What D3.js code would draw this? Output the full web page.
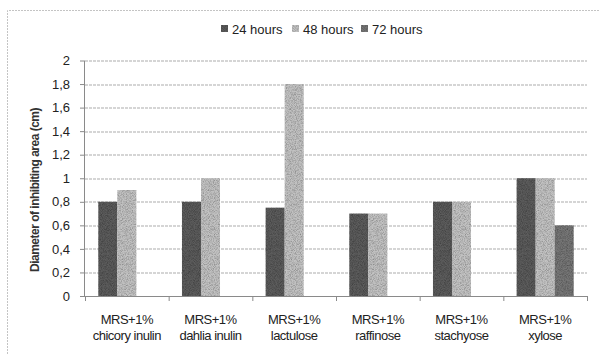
<!DOCTYPE html>
<html>
<head>
<meta charset="utf-8">
<script src="https://cdn.jsdelivr.net/npm/d3@7"></script>
<style>
  html, body { margin: 0; padding: 0; background: #fff; }
  svg { display: block; font-family: "Liberation Sans", Arial, sans-serif; }
</style>
</head>
<body>
<svg id="chart" width="600" height="354"></svg>
<script>
// Inhibition zone diameters per carbon source and incubation time
const categories = [
  ["MRS+1%", "chicory inulin"],
  ["MRS+1%", "dahlia inulin"],
  ["MRS+1%", "lactulose"],
  ["MRS+1%", "raffinose"],
  ["MRS+1%", "stachyose"],
  ["MRS+1%", "xylose"]
];
const seriesNames = ["24 hours", "48 hours", "72 hours"];
const hours24 = [0.8, 0.8, 0.75, 0.7, 0.8, 1.0];
const hours48 = [0.9, 1.0, 1.8, 0.7, 0.8, 1.0];
const hours72 = [0, 0, 0, 0, 0, 0.6];
const yTicks = [0, 0.2, 0.4, 0.6, 0.8, 1, 1.2, 1.4, 1.6, 1.8, 2];
const colors = ["#5b5b5b", "#c2c2c2", "#767676"];

const series = [hours24, hours48, hours72];
const svg = d3.select("#chart");

// grain for the bar fills
const defs = svg.append("defs");
const f = defs.append("filter").attr("id", "grain").attr("x", 0).attr("y", 0).attr("width", 1).attr("height", 1);
f.append("feTurbulence").attr("type", "fractalNoise").attr("baseFrequency", 1.2).attr("numOctaves", 1).attr("seed", 3).attr("result", "noise");
f.append("feColorMatrix").attr("in", "noise").attr("type", "matrix")
  .attr("values", "0 0 0 0 0  0 0 0 0 0  0 0 0 0 0  0 0 0 1.2 -0.45").attr("result", "speck");
f.append("feComposite").attr("in", "speck").attr("in2", "SourceGraphic").attr("operator", "in").attr("result", "speckIn");
f.append("feMerge").selectAll("feMergeNode").data(["SourceGraphic", "speckIn"]).join("feMergeNode").attr("in", d => d);

const margin = { left: 85, right: 13, top: 60.5, bottom: 58 };
const W = 600, H = 354;
const plotW = W - margin.left - margin.right;
const plotH = H - margin.top - margin.bottom;

// outer frame (top and left edges)
svg.append("path")
  .attr("d", "M7.5,354 V10.5 H600")
  .attr("fill", "none").attr("stroke", "#c4c4c4").attr("stroke-width", 1)
  .attr("stroke-dasharray", "2,1");

const g = svg.append("g").attr("transform", `translate(${margin.left},${margin.top})`);

const x = d3.scaleBand().domain(d3.range(categories.length)).range([0, plotW]).paddingInner(0).paddingOuter(0);
const xi = d3.scaleBand().domain(d3.range(series.length)).range([0, x.bandwidth()]).paddingInner(0).paddingOuter(0.7);
const y = d3.scaleLinear().domain([0, 2]).range([plotH, 0]);

// gridlines
g.append("g").selectAll("line").data(yTicks.filter(t => t > 0)).join("line")
  .attr("x1", 0).attr("x2", plotW)
  .attr("y1", d => Math.round(y(d)) + 0.5).attr("y2", d => Math.round(y(d)) + 0.5)
  .attr("stroke", "#ababab").attr("stroke-width", 1).attr("stroke-dasharray", "3,1");

// bars
const groups = g.append("g").selectAll("g").data(categories).join("g")
  .attr("transform", (d, i) => `translate(${x(i)},0)`);
groups.selectAll("rect")
  .data((d, i) => series.map((s, k) => ({ k, v: s[i] })).filter(e => e.v > 0))
  .join("rect")
  .attr("x", d => xi(d.k))
  .attr("width", xi.bandwidth())
  .attr("y", d => y(d.v))
  .attr("height", d => y(0) - y(d.v))
  .attr("fill", d => colors[d.k])
  .attr("filter", "url(#grain)");

// y axis
const yAxis = g.append("g")
  .call(d3.axisLeft(y).tickValues(yTicks).tickSize(5).tickPadding(10)
    .tickFormat(d => String(d).replace(".", ",")));
yAxis.select(".domain").attr("stroke", "#8a8a8a").attr("d", `M-0.5,0.5V${plotH + 0.5}`);
yAxis.selectAll(".tick line").attr("stroke", "#8a8a8a");
yAxis.selectAll("text").attr("font-size", 13).attr("fill", "#222")
  .attr("font-family", "'Liberation Sans', Arial, sans-serif");

// x axis
const xAxis = g.append("g").attr("transform", `translate(0,${plotH})`)
  .call(d3.axisBottom(x).tickValues([]).tickSizeOuter(0));
xAxis.select(".domain").attr("stroke", "#8a8a8a");
g.append("g").attr("transform", `translate(0,${plotH})`).selectAll("line")
  .data(d3.range(categories.length + 1)).join("line")
  .attr("x1", i => i * x.step() + 0.5).attr("x2", i => i * x.step() + 0.5)
  .attr("y1", 0).attr("y2", 5).attr("stroke", "#8a8a8a");

const xl = g.append("g").selectAll("text").data(categories).join("text")
  .attr("x", (d, i) => x(i) + x.bandwidth() / 2)
  .attr("y", plotH + 28)
  .attr("text-anchor", "middle").attr("font-size", 13).attr("fill", "#222")
  .attr("letter-spacing", "-0.5");
xl.append("tspan").attr("x", (d, i) => x(i) + x.bandwidth() / 2).text(d => d[0]);
xl.append("tspan").attr("x", (d, i) => x(i) + x.bandwidth() / 2).attr("dy", 16).text(d => d[1]);

// y title
svg.append("text")
  .attr("transform", "translate(39,190) rotate(-90)")
  .attr("text-anchor", "middle").attr("font-size", 12).attr("font-weight", "bold")
  .attr("fill", "#333").attr("letter-spacing", "-0.5")
  .text("Diameter of inhibiting area (cm)");

// legend
const legendX = [221, 292, 361];
const lg = svg.append("g").selectAll("g").data(seriesNames).join("g")
  .attr("transform", (d, i) => `translate(${legendX[i]},29)`);
lg.append("rect").attr("x", 0).attr("y", -4).attr("width", 7).attr("height", 7)
  .attr("fill", (d, i) => colors[i]).attr("filter", "url(#grain)");
lg.append("text").attr("x", 11).attr("y", 4.5).attr("font-size", 13).attr("fill", "#222")
  .text(d => d);
</script>
</body>
</html>
